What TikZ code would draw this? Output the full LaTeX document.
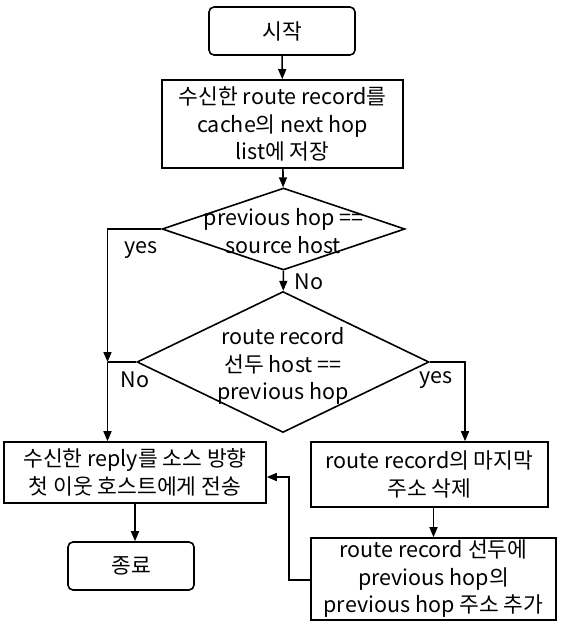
\documentclass[tikz,border=0pt]{standalone}
\usepackage{fontspec}
\setmainfont{Noto Sans CJK KR}
\usetikzlibrary{shapes.geometric,arrows.meta,calc}
\begin{document}
\begin{tikzpicture}[x=1pt,y=-1pt,
  every node/.style={font=\fontsize{21.5}{27.5}\selectfont},
  box/.style={draw,line width=1.6pt,inner sep=0pt,align=center},
  rbox/.style={box,rounded corners=5pt},
  dia/.style={draw,line width=1.6pt,diamond,inner sep=0pt},
  ln/.style={line width=1.6pt},
  arr/.style={line width=1.6pt,-{Triangle[length=10pt,width=8pt]}},
  lbl/.style={inner sep=0pt}]
\useasboundingbox (0,0) rectangle (561,622);
\node[rbox,minimum width=146,minimum height=48] (start) at (282,31) {시작};
\node[box,minimum width=241,minimum height=88] (store) at (282.5,124) {수신한 route record를\\cache의 next hop\\list에 저장};
\node[dia,minimum width=243,minimum height=82] (d1) at (283.5,229) {};
\node[lbl,align=center] (d1t) at (283.5,231) {previous hop ==\\source host};
\node[dia,minimum width=292,minimum height=141] (d2) at (283,362) {};
\node[lbl,align=center] (d2t) at (283,366) {route record\\선두 host ==\\previous hop};
\node[box,minimum width=262,minimum height=61] (reply) at (135,472.5) {수신한 reply를 소스 방향\\첫 이웃 호스트에게 전송};
\node[box,minimum width=237,minimum height=65] (del) at (429.5,474.5) {route record의 마지막\\주소 삭제};
\node[box,minimum width=245,minimum height=82] (add) at (433.5,579) {route record 선두에\\previous hop의\\previous hop 주소 추가};
\node[rbox,minimum width=126,minimum height=48] (end) at (131,566) {종료};
\node[lbl] (yes1) at (141,250) {yes};
\node[lbl] (no1) at (309,282) {No};
\node[lbl] (no2) at (135,380) {No};
\node[lbl] (yes2) at (436,380) {yes};
\coordinate (j1) at (107.5,362);
\coordinate (r1) at (465,362);
\coordinate (b1) at (289,580);
\coordinate (b2) at (289,477);
\draw[arr] (start) -- (store);
\draw[arr] (store) -- (d1);
\draw[arr] (d1) -- (d2);
\draw[arr] (d1.west) -| (j1);
\draw[ln] (d2.west) -- (j1);
\draw[arr] (j1) -- (j1 |- reply.north);
\draw[arr] (d2.east) -- (r1) -- (r1 |- del.north);
\draw[arr] (add.north |- del.south) -- (add.north);
\draw[arr] (add.west |- b1) -- (b1) -- (b2) -- (reply.east |- b2);
\draw[arr] (reply.south) -- (reply.south |- end.north);
\end{tikzpicture}
\end{document}
